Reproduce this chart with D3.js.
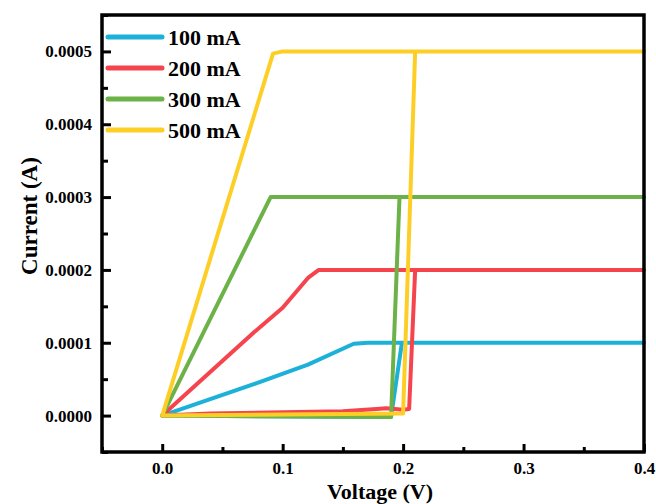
<!DOCTYPE html>
<html>
<head>
<meta charset="utf-8">
<script src="https://cdn.jsdelivr.net/npm/d3@7"></script>
<style>
  body { margin: 0; background: #fff; }
  svg text { font-family: "Liberation Serif", "Times New Roman", serif; font-weight: bold; fill: #000; }
</style>
</head>
<body>
<svg id="chart" width="656" height="504"></svg>
<script>
// series labels and colours
var seriesNames = ["100 mA", "200 mA", "300 mA", "500 mA"];
var seriesColors = ["#1cb1d8", "#f5444e", "#6cb248", "#fdcf26"];

// sweep paths (voltage in V, current in A): forward, jump, back down
var v100 = [0, 0.19, 0.199, 0.4, 0.171, 0.159, 0.121, 0.082, 0];
var i100 = [0, -0.000002, 0.0001, 0.0001, 0.0001, 0.0000986, 0.00007, 0.0000465, 0];

var v200 = [0, 0.04, 0.15, 0.178, 0.186, 0.2, 0.205, 0.21, 0.4, 0.13, 0.121, 0.1, 0.076, 0];
var i200 = [0, 0.000003, 0.000006, 0.000009, 0.00001, 0.000008, 0.000009, 0.0002, 0.0002, 0.0002, 0.000189, 0.000148, 0.000114, 0];

var v300 = [0, 0.19, 0.197, 0.4, 0.09, 0];
var i300 = [0, -0.000002, 0.0003, 0.0003, 0.0003, 0];

var v500 = [0, 0.2, 0.21, 0.4, 0.1, 0.092, 0];
var i500 = [0, 0.000003, 0.0005, 0.0005, 0.0005, 0.000497, 0];

var xTicks = [0, 0.1, 0.2, 0.3, 0.4];
var yTicks = [0, 0.0001, 0.0002, 0.0003, 0.0004, 0.0005];

var seriesV = [v100, v200, v300, v500];
var seriesI = [i100, i200, i300, i500];

var svg = d3.select('#chart');
var m = {top: 15, right: 12, bottom: 52, left: 102};
var w = 656 - m.left - m.right,
    h = 504 - m.top - m.bottom;

var g = svg.append('g').attr('transform', 'translate(' + m.left + ',' + m.top + ')');

var x = d3.scaleLinear().domain([-0.05, 0.4]).range([0, w]);
var y = d3.scaleLinear().domain([-0.00005, 0.00055]).range([h, 0]);

// minor ticks first
var xMinor = d3.range(-0.05, 0.4001, 0.05).filter(function(d){ return xTicks.every(function(t){ return Math.abs(t - d) > 1e-9; }); });
var yMinor = d3.range(-0.00005, 0.00056, 0.0001);

g.append('g')
  .attr('transform', 'translate(0,' + h + ')')
  .call(d3.axisBottom(x).tickValues(xMinor).tickSize(-5).tickFormat(''))
  .call(function(s){ s.select('.domain').remove(); s.selectAll('line').attr('stroke-width', 3); });

g.append('g')
  .call(d3.axisLeft(y).tickValues(yMinor).tickSize(-6).tickFormat(''))
  .call(function(s){ s.select('.domain').remove(); s.selectAll('line').attr('stroke-width', 3); });

// major ticks
var xAxis = g.append('g')
  .attr('transform', 'translate(0,' + h + ')')
  .call(d3.axisBottom(x).tickValues(xTicks).tickSize(-8).tickPadding(10).tickFormat(d3.format('.1f')));
xAxis.select('.domain').remove();
xAxis.selectAll('line').attr('stroke-width', 3);
xAxis.selectAll('text').style('font-size', '17px');

var yAxis = g.append('g')
  .call(d3.axisLeft(y).tickValues(yTicks).tickSize(-9).tickPadding(10).tickFormat(d3.format('.4f')));
yAxis.select('.domain').remove();
yAxis.selectAll('line').attr('stroke-width', 3);
yAxis.selectAll('text').style('font-size', '17px');

// curves
var line = d3.line()
  .x(function(d){ return x(d[0]); })
  .y(function(d){ return y(d[1]); });

seriesV.forEach(function(vs, k){
  var pts = vs.map(function(v, j){ return [v, seriesI[k][j]]; });
  g.append('path')
    .datum(pts)
    .attr('d', line)
    .attr('fill', 'none')
    .attr('stroke', seriesColors[k])
    .attr('stroke-width', 4)
    .attr('stroke-linejoin', 'round')
    .attr('stroke-linecap', 'round');
});

// frame
g.append('rect')
  .attr('x', 0).attr('y', 0)
  .attr('width', w).attr('height', h)
  .attr('fill', 'none')
  .attr('stroke', '#000')
  .attr('stroke-width', 3.5);

// legend
var legend = g.append('g').attr('transform', 'translate(6,22)');
seriesNames.forEach(function(name, k){
  var row = legend.append('g').attr('transform', 'translate(0,' + (k * 31) + ')');
  row.append('line')
    .attr('x1', 0).attr('x2', 54)
    .attr('stroke', seriesColors[k])
    .attr('stroke-width', 5)
    .attr('stroke-linecap', 'round');
  row.append('text')
    .attr('x', 60).attr('y', 8)
    .style('font-size', '22px')
    .text(name);
});

// axis titles
svg.append('text')
  .attr('x', 380).attr('y', 499)
  .attr('text-anchor', 'middle')
  .style('font-size', '22px')
  .text('Voltage (V)');

svg.append('text')
  .attr('transform', 'translate(37,216) rotate(-90)')
  .attr('text-anchor', 'middle')
  .style('font-size', '23px')
  .text('Current (A)');
</script>
</body>
</html>
